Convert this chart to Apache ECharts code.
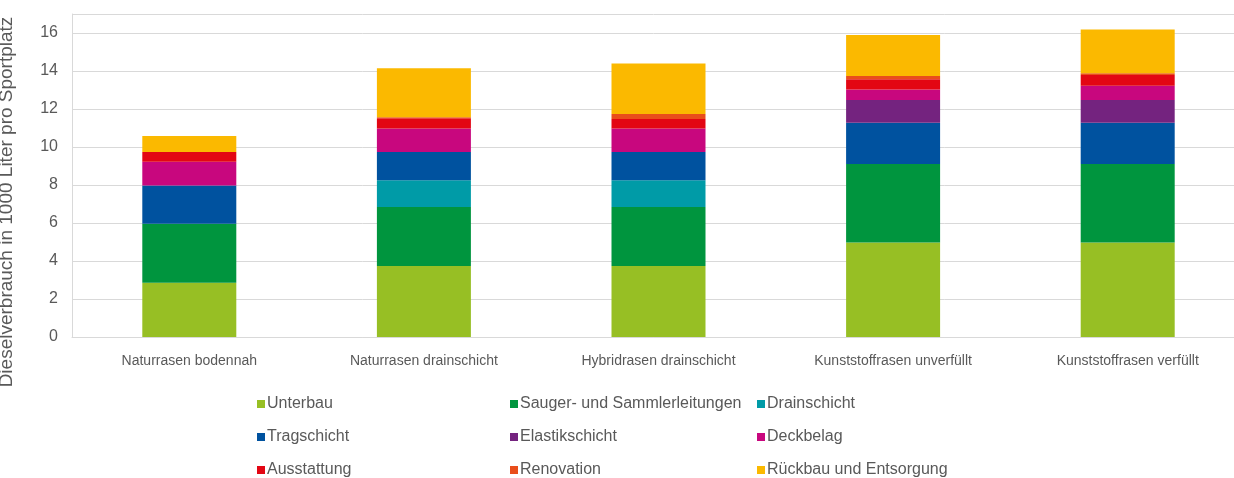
<!DOCTYPE html>
<html>
<head>
<meta charset="utf-8">
<script src="https://cdn.jsdelivr.net/npm/echarts@6/dist/echarts.min.js"></script>
<style>
  html, body { margin: 0; padding: 0; background: #fff; }
  #chart { width: 1234px; height: 478px; }
</style>
</head>
<body>
<div id="chart"></div>
<script>
  // Kategorien (Sportplatztypen)
  const categories = ['Naturrasen bodennah', 'Naturrasen drainschicht', 'Hybridrasen drainschicht', 'Kunststoffrasen unverfüllt', 'Kunststoffrasen verfüllt']

  // Dieselverbrauch je Bauteil, in 1000 Liter
  const unterbau = [2.86, 3.74, 3.74, 4.98, 4.98]
  const sauger = [3.10, 3.10, 3.10, 4.13, 4.13]
  const drainschicht = [0, 1.41, 1.41, 0, 0]
  const tragschicht = [2.02, 1.49, 1.49, 2.17, 2.17]
  const elastikschicht = [0, 0, 0, 1.19, 1.19]
  const deckbelag = [1.25, 1.24, 1.24, 0.56, 0.76]
  const ausstattung = [0.51, 0.53, 0.49, 0.53, 0.56]
  const renovation = [0, 0.05, 0.27, 0.18, 0.09]
  const rueckbau = [0.84, 2.58, 2.66, 2.15, 2.31]

  const yTicks = [0, 2, 4, 6, 8, 10, 12, 14, 16]

  const textColor = '#595959'
  const lineColor = '#D9D9D9'
  const font = 'Liberation Sans'

  const seriesDefs = [
    ['Unterbau', unterbau, '#97BF24'],
    ['Sauger- und Sammlerleitungen', sauger, '#00953E'],
    ['Drainschicht', drainschicht, '#009BA7'],
    ['Tragschicht', tragschicht, '#00529F'],
    ['Elastikschicht', elastikschicht, '#74237F'],
    ['Deckbelag', deckbelag, '#C8077E'],
    ['Ausstattung', ausstattung, '#E30613'],
    ['Renovation', renovation, '#E94E1B'],
    ['Rückbau und Entsorgung', rueckbau, '#FBB900']
  ]

  // Legende in drei Spalten
  function legendCol(left, names) {
    return {
      data: names,
      orient: 'vertical',
      left: left,
      top: 395,
      height: 90,
      padding: 0,
      itemWidth: 8,
      itemHeight: 8,
      itemGap: 15,
      icon: 'rect',
      textStyle: { color: textColor, fontSize: 16, fontFamily: font, padding: [0, 0, 0, -3], lineHeight: 18 }
    }
  }

  let chart = echarts.init(document.getElementById('chart'))
  chart.setOption({
    animation: false,
    // Plotbereich ist rechts abgeschnitten wie im Original
    grid: {
      left: 72,
      width: 1173,
      top: 14,
      bottom: 141,
      outerBoundsMode: 'none'
    },
    legend: [
      legendCol(257, ['Unterbau', 'Tragschicht', 'Ausstattung']),
      legendCol(510, ['Sauger- und Sammlerleitungen', 'Elastikschicht', 'Renovation']),
      legendCol(757, ['Drainschicht', 'Deckbelag', 'Rückbau und Entsorgung'])
    ],
    graphic: [{
      type: 'text',
      x: 7,
      y: 202,
      rotation: Math.PI / 2,
      style: {
        text: 'Dieselverbrauch in 1000 Liter pro Sportplatz',
        fill: textColor,
        fontSize: 19,
        fontFamily: font,
        align: 'center',
        verticalAlign: 'middle'
      }
    }],
    xAxis: {
      type: 'category',
      data: categories,
      axisLine: { lineStyle: { color: lineColor } },
      axisTick: { show: false },
      axisLabel: { color: textColor, fontSize: 14, fontFamily: font, margin: 17 }
    },
    yAxis: {
      type: 'value',
      min: yTicks[0],
      max: 17,
      interval: 2,
      axisLine: { show: true, lineStyle: { color: lineColor } },
      axisTick: { show: false },
      splitLine: { lineStyle: { color: lineColor } },
      axisLabel: { color: textColor, fontSize: 16, fontFamily: font, margin: 14, showMaxLabel: false }
    },
    series: seriesDefs.map(function (d) {
      return {
        name: d[0],
        type: 'bar',
        stack: 'total',
        data: d[1],
        barWidth: 94,
        itemStyle: { color: d[2] }
      }
    })
  })
</script>
</body>
</html>
